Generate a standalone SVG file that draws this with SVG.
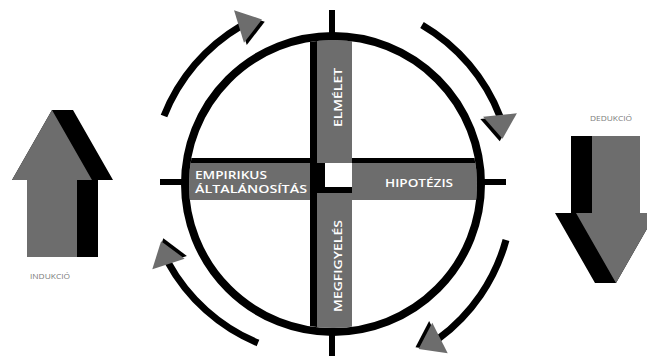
<svg xmlns="http://www.w3.org/2000/svg" xmlns:xlink="http://www.w3.org/1999/xlink" width="647" height="356" viewBox="0 0 647 356">
  <style>
    .gray { fill: #6d6d6d; }
    .blk { fill: #000; }
    .ring { fill: none; stroke: #000; stroke-width: 8; }
    .tick { stroke: #000; stroke-width: 6; }
    .arc { fill: none; stroke: #000; stroke-width: 7; stroke-linecap: butt; }
    .lbl { font-family: "Open Sans", "Liberation Sans", sans-serif; font-weight: 600; font-size: 11px; fill: #fff; }
    .small { font-family: "Open Sans", "Liberation Sans", sans-serif; font-size: 6.5px; fill: #7a7a7a; }
  </style>
  <defs>
    <clipPath id="inner">
      <circle cx="333" cy="184" r="144"/>
    </clipPath>
    <g id="ah">
      <polygon points="0,-17 24,0 0,17" fill="#000" transform="translate(2,3)"/>
      <polygon points="0,-17 24,0 0,17" fill="#6d6d6d"/>
    </g>
  </defs>
  <rect width="647" height="356" fill="#fff"/>

  <g id="frame">
    <g clip-path="url(#inner)">
      <rect class="blk" x="170" y="158" width="330" height="5"/>
      <rect class="gray" x="170" y="163" width="330" height="37"/>
      <rect class="blk" x="310" y="30" width="7" height="310"/>
      <rect class="gray" x="317" y="30" width="35" height="310"/>
      <rect class="blk" x="310" y="163" width="42" height="30"/>
      <rect fill="#fff" x="325" y="163" width="27" height="24"/>
    </g>
    <circle class="ring" cx="333" cy="184" r="148"/>
    <line class="tick" x1="332" y1="10" x2="332" y2="36"/>
    <line class="tick" x1="332" y1="332" x2="332" y2="356"/>
    <line class="tick" x1="160" y1="182" x2="186" y2="182"/>
    <line class="tick" x1="480" y1="182" x2="506" y2="182"/>
  </g>

  <g id="elmelet">
    <text class="lbl" transform="translate(341.5,97.5) rotate(-90)" text-anchor="middle" textLength="59" lengthAdjust="spacingAndGlyphs">ELMÉLET</text>
  </g>
  <g id="hipotezis">
    <text class="lbl" x="385" y="186.7" textLength="68" lengthAdjust="spacingAndGlyphs">HIPOTÉZIS</text>
  </g>
  <g id="megfigyeles">
    <text class="lbl" transform="translate(342,266) rotate(-90)" text-anchor="middle" textLength="92" lengthAdjust="spacingAndGlyphs">MEGFIGYELÉS</text>
  </g>
  <g id="empirikus">
    <text class="lbl" x="195" y="179.3" textLength="72" lengthAdjust="spacingAndGlyphs">EMPIRIKUS</text>
    <text class="lbl" x="195" y="193.3" textLength="112" lengthAdjust="spacingAndGlyphs">ÁLTALÁNOSÍTÁS</text>
  </g>

  <g id="indukcio">
    <polygon class="blk" points="52,110 73,110 113,180 98,180 98,257 48,257 48,180 12,180"/>
    <polygon class="gray" points="52,110 92,180 77,180 77,257 27,257 27,180 12,180"/>
    <text class="small" x="50" y="279" text-anchor="middle" textLength="40" lengthAdjust="spacingAndGlyphs">INDUKCIÓ</text>
  </g>
  <g id="dedukcio">
    <polygon class="blk" points="571,136 619,136 619,213 656,213 616,283 595,283 555,213 571,213"/>
    <polygon class="gray" points="592,136 640,136 640,213 656,213 616,283 576,213 592,213"/>
    <text class="small" x="611" y="121" text-anchor="middle" textLength="42" lengthAdjust="spacingAndGlyphs">DEDUKCIÓ</text>
  </g>

  <g id="connectors">
    <path class="arc" d="M164,116 A182,182 0 0 1 240.9,25.9"/>
    <use xlink:href="#ah" transform="translate(239,26.5) rotate(-17)"/>
    <path class="arc" d="M422,25 A182,182 0 0 1 500.2,117"/>
    <use xlink:href="#ah" transform="translate(500,115) rotate(84)"/>
    <path class="arc" d="M506,240 A182,182 0 0 1 438.2,338.9"/>
    <use xlink:href="#ah" transform="translate(440,338) rotate(153)"/>
    <path class="arc" d="M258,343 A182,182 0 0 1 167.9,262.1"/>
    <use xlink:href="#ah" transform="translate(168.5,264) rotate(-108)"/>
  </g>
</svg>
